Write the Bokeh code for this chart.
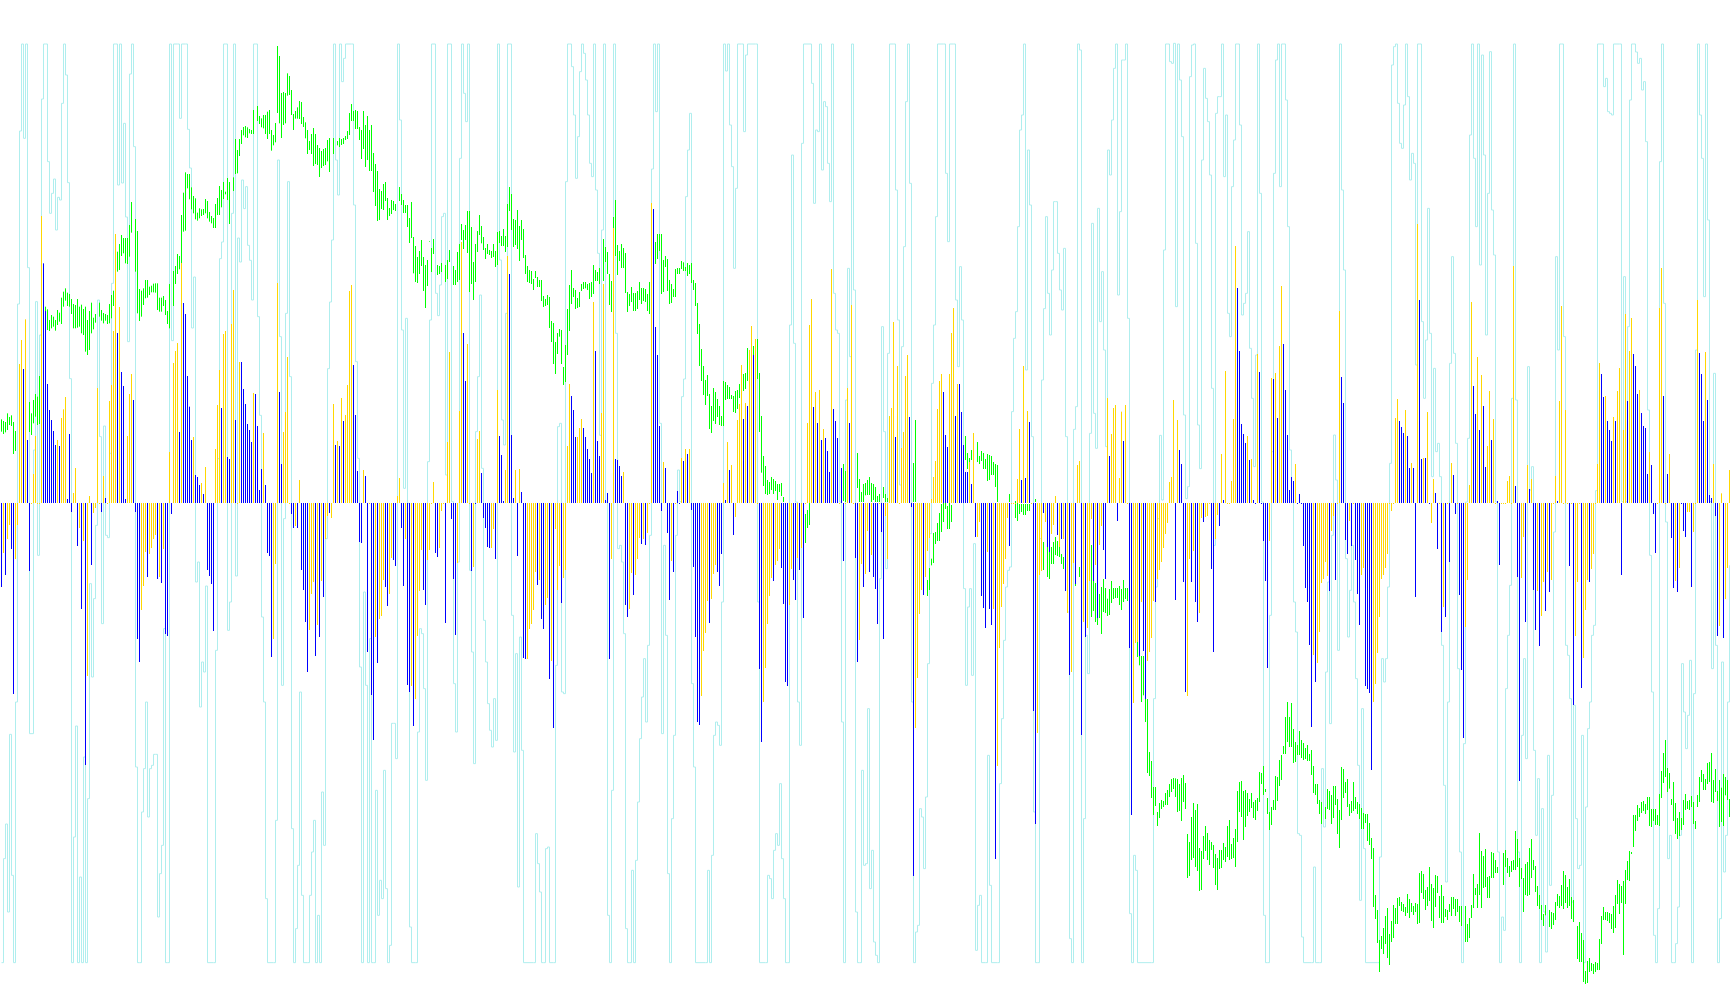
from bokeh.plotting import figure
from bokeh.models import Range1d, ColumnDataSource
from bokeh.embed import file_html
from bokeh.resources import INLINE

# Signed oscillator bars, as (bar number, value); the unit is a third of a screen pixel.
blue_bars = [
(11,399),(13,186),(21,716),(22,573),(23,354),(24,276),(25,246),(26,213),(27,171),(29,168),(33,9),(34,204),(52,12),(58,507),(60,390),(61,348),(62,9),(66,306),(89,210),(91,597),(92,564),(93,378),(94,286),(95,186),(97,81),(98,75),(99,51),(101,24),(110,282),(113,135),(114,129),(117,246),(120,420),(121,339),(122,294),(123,234),(124,216),(125,180),(127,324),(128,228),(129,36),(130,99),(132,51),(139,330),(140,114),(167,171),(169,168),(171,243),(176,411),(177,261),(178,93),(182,78),
(0,-255),(2,-219),(5,-141),(6,-576),(14,-207),(35,-30),(38,-132),(40,-321),(42,-789),(45,-189),(50,-30),(67,-30),(68,-411),(69,-480),(73,-225),(78,-231),(80,-243),(82,-396),(83,-402),(85,-36),(103,-204),(104,-222),(105,-246),(106,-387),(133,-153),(134,-162),(135,-465),(145,-36),(146,-78),(148,-78),(150,-204),(151,-264),(152,-360),(153,-510),(157,-462),(159,-405),(161,-285),(164,-33),(179,-120),(180,-123),(183,-450),(185,-579),(186,-714),(188,-483),(192,-255),(193,-312),(196,-174),(197,-192),(200,-78),(201,-252),(203,-549),(204,-570),(206,-672),(211,-264),(212,-309),
(231,507),(232,363),(240,87),(249,198),(250,141),(251,3),(254,684),(255,201),(256,12),(260,30),(285,318),(286,276),(287,195),(291,222),(292,195),(293,159),(294,129),(295,87),(297,453),(298,183),(299,138),(302,6),(303,27),(307,129),(308,126),(309,108),(310,78),(326,879),(327,525),(328,441),(329,228),(332,102),(338,33),(341,123),(343,144),(362,6),(364,96),(371,249),(373,288),(376,441),(406,285),(408,237),(410,186),(412,192),(413,153),(414,90),(416,279),(417,243),(418,192),(420,102),(424,237),
(217,-153),(218,-165),(222,-363),(225,-51),(226,-231),(227,-399),(235,-207),(241,-48),(242,-78),(243,-135),(244,-138),(247,-171),(258,-162),(261,-468),(262,-471),(268,-249),(270,-351),(271,-381),(274,-531),(276,-678),(280,-303),(304,-471),(312,-309),(313,-345),(316,-279),(320,-126),(322,-129),(330,-27),(333,-93),(334,-294),(336,-210),(345,-24),(346,-195),(347,-405),(348,-660),(349,-669),(354,-363),(358,-210),(359,-252),(360,-156),(366,-99),(379,-501),(380,-720),(386,-237),(390,-198),(391,-306),(392,-540),(393,-552),(396,-234),(397,-294),(399,-204),(401,-348),(421,-177),(427,-168),(428,-480),(431,-255),
(447,195),(454,255),(471,330),(472,201),(473,165),(477,258),(479,354),(480,270),(481,171),(482,90),(483,90),(485,54),(510,66),(512,72),(514,240),(554,138),(561,183),(589,156),(590,114),(611,6),(618,642),(619,453),(620,234),(621,204),(622,177),(624,126),(626,6),(629,390),(636,369),(638,252),(641,474),(642,336),(643,201),(644,36),(645,75),(646,63),
(434,-210),(436,-225),(437,-261),(438,-366),(440,-90),(441,-411),(455,-15),(456,-1122),(461,-279),(487,-105),(490,-282),(491,-318),(492,-378),(494,-321),(495,-369),(497,-1071),(504,-132),(516,-627),(517,-966),(521,-33),(523,-135),(524,-150),(528,-99),(530,-111),(532,-267),(534,-519),(537,-246),(540,-699),(542,-405),(546,-237),(548,-348),(551,-144),(552,-231),(558,-57),(564,-438),(565,-939),(569,-462),(571,-447),(572,-591),(577,-300),(587,-294),(591,-240),(592,-570),(595,-240),(597,-300),(598,-360),(601,-60),(605,-201),(606,-450),(609,-72),(631,-117),(632,-237),(633,-498),
(649,24),(670,375),(671,297),(699,243),(700,225),(701,207),(703,198),(704,102),(706,102),(709,606),(710,129),(712,132),(717,27),(726,81),(736,348),(737,264),(739,216),(741,288),(742,105),(745,186),(748,3),(757,48),(764,39),(778,3),(800,384),(801,315),(803,243),(804,216),(805,183),(807,243),(813,303),(816,444),(817,408),(818,324),(820,267),(821,228),(822,222),(823,84),(825,111),(831,318),(833,84),(849,447),(850,384),(851,243),(853,306),(854,21),(855,12),
(651,-132),(652,-258),(653,-300),(654,-429),(655,-675),(657,-540),(664,-267),(667,-234),(672,-114),(673,-156),(675,-132),(677,-174),(678,-276),(679,-369),(682,-552),(683,-561),(684,-573),(685,-804),(707,-285),(718,-141),(720,-390),(722,-345),(724,-180),(727,-36),(729,-279),(730,-504),(731,-708),(749,-189),(758,-225),(759,-837),(762,-360),(766,-264),(767,-384),(769,-432),(772,-327),(774,-270),(784,-192),(786,-609),(790,-558),(794,-240),(810,-219),(826,-36),(827,-153),(835,-108),(836,-258),(838,-270),(841,-87),(842,-105),(845,-255),(857,-42),(858,-402),(861,-408),
]

gold_bars = [
(9,414),(10,486),(12,548),(16,84),(17,198),(20,858),(28,186),(30,252),(31,278),(32,315),(36,27),(37,102),(44,18),(48,342),(51,78),(54,303),(55,351),(56,513),(57,804),(59,585),(63,198),(64,324),(65,384),(84,150),(86,417),(87,453),(88,477),(90,717),(96,195),(100,57),(102,105),(107,159),(108,291),(109,396),(111,504),(112,513),(115,534),(116,636),(119,420),(126,327),(131,207),(138,657),(141,210),(142,270),(143,435),(149,66),(166,294),(168,183),(170,312),(172,261),(173,351),(174,633),(175,651),(181,96),(198,18),(199,72),
(1,-153),(3,-111),(4,-69),(7,-171),(8,-69),(39,-78),(41,-117),(43,-522),(46,-33),(47,-18),(70,-324),(71,-252),(72,-150),(74,-156),(75,-138),(76,-111),(77,-99),(79,-225),(81,-141),(136,-411),(137,-186),(147,-72),(154,-384),(155,-276),(156,-240),(158,-369),(160,-237),(162,-111),(163,-42),(165,-48),(187,-405),(189,-351),(190,-342),(191,-234),(194,-276),(195,-168),(202,-111),(205,-552),(207,-591),(208,-402),(209,-267),(210,-144),(213,-174),(214,-144),
(216,60),(223,180),(224,450),(229,273),(230,780),(233,474),(238,189),(239,213),(248,336),(252,96),(253,738),(257,96),(259,99),(283,168),(284,354),(288,195),(289,222),(290,249),(296,600),(300,267),(301,654),(306,822),(311,90),(325,897),(331,120),(340,132),(342,159),(344,159),(361,57),(363,180),(365,111),(368,246),(369,294),(370,411),(372,297),(374,456),(375,528),(377,489),(403,237),(404,531),(405,609),(407,330),(409,336),(411,219),(415,699),(423,342),(425,591),
(219,-138),(220,-27),(228,-183),(236,-195),(245,-138),(246,-81),(263,-471),(264,-381),(265,-366),(266,-324),(267,-210),(269,-234),(272,-309),(273,-288),(275,-477),(277,-81),(278,-264),(279,-192),(281,-228),(282,-204),(305,-171),(314,-321),(315,-213),(317,-219),(318,-171),(319,-108),(321,-111),(323,-93),(335,-177),(350,-582),(351,-447),(352,-393),(353,-297),(355,-291),(356,-216),(357,-189),(367,-45),(381,-600),(382,-498),(383,-366),(384,-282),(385,-228),(387,-189),(388,-177),(389,-141),(394,-309),(395,-201),(398,-168),(400,-138),(429,-414),(430,-186),(432,-216),
(444,258),(445,282),(446,540),(448,408),(450,162),(451,210),(452,378),(453,441),(465,9),(466,75),(467,123),(468,279),(469,363),(470,384),(474,384),(475,507),(476,582),(478,354),(484,120),(486,207),(508,69),(509,219),(511,408),(513,273),(527,18),(538,111),(539,123),(553,312),(555,204),(556,282),(557,291),(559,72),(560,271),(562,291),(584,60),(585,75),(586,306),(588,246),(610,144),(612,393),(615,63),(616,249),(617,768),(623,198),(625,129),(628,444),(635,372),(637,387),(639,468),(640,648),(647,114),
(433,-87),(435,-159),(442,-42),(443,-171),(457,-678),(458,-528),(459,-336),(460,-264),(462,-225),(463,-147),(464,-108),(488,-105),(489,-60),(493,-150),(496,-321),(498,-792),(499,-438),(500,-315),(501,-246),(502,-171),(503,-48),(518,-693),(519,-219),(520,-207),(522,-60),(525,-96),(526,-69),(529,-135),(531,-111),(533,-333),(535,-510),(536,-183),(541,-360),(543,-378),(544,-237),(545,-51),(547,-189),(549,-129),(550,-72),(566,-603),(567,-423),(568,-420),(570,-300),(573,-477),(574,-450),(575,-408),(576,-297),(578,-231),(579,-204),(580,-180),(581,-138),(582,-96),(583,-63),(593,-582),(594,-171),(596,-147),(599,-333),(600,-48),(602,-45),(603,-42),(607,-111),(608,-39),(634,-117),
(669,573),(697,252),(698,309),(702,276),(705,117),(708,834),(711,132),(713,270),(716,69),(725,117),(734,51),(735,600),(738,435),(740,381),(743,168),(744,333),(746,249),(753,63),(754,78),(756,708),(763,111),(765,69),(777,78),(779,303),(780,588),(782,276),(798,114),(799,417),(802,318),(806,255),(808,333),(809,402),(811,216),(812,564),(814,453),(815,552),(819,336),(824,150),(829,582),(830,702),(834,144),(848,606),(852,450),(856,114),(860,26),(864,96),
(656,-459),(658,-483),(659,-390),(660,-243),(661,-231),(662,-180),(663,-222),(665,-87),(666,-42),(674,-57),(680,-219),(681,-198),(686,-600),(687,-546),(688,-453),(689,-345),(690,-231),(691,-219),(692,-198),(693,-156),(695,-27),(715,-63),(721,-315),(732,-375),(733,-234),(760,-228),(761,-105),(768,-267),(770,-342),(771,-240),(773,-210),(775,-234),(787,-402),(788,-240),(791,-468),(792,-324),(793,-234),(795,-201),(796,-156),(837,-237),(839,-198),(843,-30),(844,-30),(846,-90),(859,-372),(862,-291),(863,-198),
]

# Runs of bars near zero that read blue; the other near-zero bars read gold.
small_blue_runs = [(21,29),(33,35),(58,66),(89,101),(120,132),(139,140),(167,182),(237,241),(249,257),(283,287),(291,295),(306,311),(325,330),(338,344),(361,365),(403,417),(471,485),(617,631),(636,648),(649,652),(669,671),(698,716),(798,825),(840,846),(850,854)]
small_bar_value = -6
bar_base = -3

# Price range of each bar, (high, low), listed from bar 0; None where no range shows.
green_range = [
(248,211),(243,204),(240,209),(266,216),(255,231),(260,228),(240,144),(213,153),None,None,
None,None,None,None,(300,210),(266,201),(306,236),(324,256),(316,231),(378,234),
None,None,(586,521),(578,516),(546,513),(561,521),(556,526),(546,514),(576,531),(568,541),
(613,534),(631,586),(641,604),(628,588),(624,586),(609,564),(594,521),(591,521),(609,523),(586,526),
(592,506),(579,501),(586,451),(546,441),(573,456),(598,506),(553,518),(564,538),None,(598,556),
(576,544),(567,536),(564,544),(561,534),(594,536),(621,551),(634,588),None,(751,691),(774,696),
(801,738),(792,746),(792,716),(792,714),(831,736),(900,808),None,(849,691),(813,566),(639,543),
(634,556),(641,591),(666,611),(666,613),(646,621),(649,629),(655,629),(656,628),(656,576),(613,571),
(613,571),(618,588),(606,561),(573,534),(654,521),None,(693,588),(708,654),(744,684),(738,698),
(861,701),(928,811),(989,814),(984,941),(984,908),(944,878),(918,866),(911,848),(868,844),(881,851),
(878,858),(879,861),(909,866),(903,851),(870,841),(858,836),(852,822),(894,822),(912,861),(948,861),
(936,884),(960,909),(931,923),(972,906),(960,834),None,(974,933),(1089,984),(1056,986),(1089,1038),
(1116,1074),(1125,1100),(1128,1094),(1124,1092),(1119,1106),(1116,1104),(1176,1104),None,(1188,1143),(1158,1134),
(1151,1124),(1161,1121),(1161,1104),(1171,1089),(1176,1104),(1116,1054),(1101,1070),(1137,1079),(1368,1167),(1338,1136),
(1227,1092),(1230,1131),(1227,1136),(1286,1219),(1278,1221),(1236,1161),(1164,1116),(1173,1150),(1184,1150),(1203,1149),
(1200,1134),(1155,1125),(1139,1091),(1116,1044),(1083,1056),(1104,1044),(1122,1008),(1104,1014),(1071,1011),(1062,975),
(1053,1002),(1059,1008),(1062,1011),(1086,1022),(1092,990),None,(1092,1044),None,(1083,1070),(1092,1065),
(1089,1071),(1092,1074),(1098,1086),(1113,1089),(1167,1101),(1194,1143),(1173,1143),(1176,1119),(1173,1119),(1125,1086),
(1116,1029),(1173,1059),(1131,1005),(1158,1026),(1116,993),(1131,993),(1047,930),(1014,888),(993,843),(939,846),
(933,879),(954,876),(960,903),(912,846),(882,858),(906,864),(903,876),(894,873),None,(945,903),
(924,891),(906,867),(891,867),(891,825),(852,777),(900,792),(795,686),(768,660),(735,657),(753,684),
(786,708),(735,633),(711,582),(726,648),(783,781),(762,690),
(789,744),None,(711,681),(708,684),(717,690),None,(711,660),(726,669),(756,720),None,
(708,651),(696,651),(750,660),(774,666),(834,786),(816,759),(831,786),(873,747),(873,630),(825,654),
(720,606),(774,660),(813,750),(861,801),(828,776),(795,756),(762,729),(774,744),(756,741),(753,732),
(774,735),(753,705),(810,711),(813,777),(798,768),(819,768),(798,750),(894,765),(945,873),(924,816),
(849,765),(846,771),(876,759),(828,723),(846,786),(819,732),(741,684),(708,660),(696,657),(693,654),
(669,636),(693,672),(675,645),(666,645),(666,603),(618,585),(609,588),(621,591),(615,522),(543,480),
(537,414),(480,384),(507,444),(519,496),(516,414),(405,351),(471,360),(579,441),(651,513),(696,594),
(642,615),(636,579),(612,582),(630,585),(654,633),(660,639),(660,641),(654,636),(657,609),(660,615),
(711,624),(696,663),(690,663),(702,654),None,(789,663),(765,720),(750,684),(684,591),(663,570),
(855,822),(906,738),(771,681),(753,723),(774,702),(762,702),(747,627),(630,570),(624,588),(645,600),
(627,573),(627,573),(633,579),(660,606),(642,594),(642,603),(639,600),(624,573),(660,564),None,
None,(780,714),(804,729),(804,753),(804,624),(726,630),(738,705),(729,633),(666,594),(654,597),
(639,615),(699,615),(702,684),(702,684),(723,699),(719,693),(705,693),(717,678),(711,684),(717,657),
(666,636),(657,588),(597,504),(534,408),(459,363),(408,321),(366,291),(381,318),(324,219),(288,207),
(342,243),(330,234),(309,255),(288,231),(258,228),(363,228),(360,306),(351,309),(345,309),(321,309),
(318,270),(333,267),(336,279),(354,312),(363,312),(384,333),(387,339),(462,363),(456,426),None,
(468,441),(486,369),(489,369),(387,210),(258,88),(138,48),(108,24),(66,21),(60,24),(75,36),
(69,24),(63,33),(54,6),(54,30),(57,18),(15,0),None,None,None,None,
None,None,None,None,None,None,(-36,-123),(-24,-78),(-3,-69),None,
None,None,None,None,None,None,None,None,None,None,
None,None,None,None,None,(114,3),(93,0),None,None,None,
None,None,(147,42),(69,0),(30,0),(54,0),(57,20),(66,21),
(75,21),(57,0),(54,6),(45,0),(18,0),(24,0),None,(45,12),(24,0),(12,0),
(33,0),None,None,None,None,None,None,None,None,None,
None,None,(117,0),(246,0),None,None,None,None,None,(-234,-282),
(-198,-264),(-170,-190),(-93,-183),(-90,-126),(-63,-117),(-33,-117),(-6,-90),(-3,-60),(-3,-21),(-12,-81),
(-3,-81),(-9,-60),None,None,None,None,None,None,(198,126),(147,99),
(132,108),(156,126),(177,126),None,(180,120),(138,114),(153,123),(147,99),(129,99),(144,63),
(141,66),(138,81),(120,81),(114,45),(111,0),None,None,None,None,None,
(24,0),None,None,(3,-48),(36,-57),(-6,-36),(-6,-30),(-6,-39),(-6,-39),(-6,-27),
(-6,-27),None,None,(9,0),None,None,None,(-120,-204),None,(-90,-225),
(-117,-231),(-135,-186),(-120,-186),(-105,-159),(-117,-162),(-99,-165),(-156,-186),(-165,-201),(-165,-195),None,
None,None,None,(-180,-252),None,(-195,-225),(-135,-225),None,(-105,-366),None,
None,(-129,-345),(-209,-327),(-243,-360),(-249,-369),(-276,-348),(-255,-396),(-231,-330),(-258,-333),(-290,-342),
(-261,-339),(-237,-303),(-258,-291),(-258,-288),(-258,-288),(-252,-309),(-261,-324),(-234,-300),(-258,-291),(-258,-297),
(-249,-294),None,None,None,(-420,-465),(-417,-490),(-462,-600),(-462,-580),(-552,-660),(-591,-813),
(-750,-822),(-777,-888),(-855,-939),(-855,-912),(-930,-972),(-903,-948),(-894,-921),(-897,-915),(-873,-909),(-864,-909),
(-846,-885),(-831,-870),(-828,-861),(-829,-885),(-831,-930),(-846,-927),(-828,-957),(-819,-900),(-843,-921),(-996,-1128),
(-1020,-1122),(-945,-1074),(-903,-1068),(-924,-1095),(-906,-1107),(-1038,-1167),(-1047,-1164),(-1002,-1071),(-972,-1047),(-993,-1074),
(-1014,-1089),(-1020,-1044),(-1029,-1098),(-1056,-1149),(-1068,-1164),(-1044,-1101),(-1044,-1098),(-1023,-1074),(-1035,-1080),(-972,-1065),
(-954,-1074),(-1026,-1071),(-1008,-1068),(-981,-1095),(-867,-1020),(-840,-930),(-837,-945),(-867,-1014),(-864,-975),(-873,-942),
(-891,-930),(-873,-918),(-900,-948),(-894,-954),(-888,-927),(-810,-900),(-813,-846),(-792,-879),(-861,-870),(-888,-936),
(-930,-984),(-915,-969),(-894,-924),(-822,-924),(-825,-897),(-774,-852),(-759,-834),(-732,-756),(-645,-756),(-600,-720),
(-645,-735),(-603,-735),(-681,-783),(-720,-780),(-729,-759),(-687,-759),
(-714,-768),(-723,-774),(-738,-771),(-729,-777),(-756,-777),(-744,-819),(-792,-873),(-846,-879),(-846,-906),(-894,-936),
(-900,-966),None,(-915,-951),(-861,-921),(-867,-924),(-879,-966),(-852,-948),(-852,-909),(-891,-996),(-924,-1038),
(-795,-954),(-801,-888),(-840,-873),(-831,-915),(-906,-942),(-897,-933),(-840,-927),(-885,-921),(-900,-936),(-906,-951),
(-918,-981),(-933,-981),(-936,-963),(-936,-1017),(-963,-1029),(-1008,-1071),(-1038,-1215),(-1179,-1251),(-1224,-1323),(-1314,-1410),
(-1302,-1341),(-1278,-1356),(-1242,-1326),(-1218,-1368),(-1296,-1389),(-1257,-1320),(-1209,-1308),(-1218,-1266),(-1188,-1266),(-1185,-1212),
(-1200,-1227),(-1206,-1230),(-1215,-1242),(-1176,-1233),(-1191,-1248),(-1203,-1230),(-1212,-1239),(-1203,-1230),(-1206,-1266),(-1113,-1263),
(-1107,-1173),(-1116,-1191),(-1164,-1224),(-1155,-1212),(-1095,-1197),(-1146,-1257),(-1158,-1278),(-1119,-1215),(-1122,-1173),(-1182,-1248),
(-1149,-1263),(-1182,-1263),(-1221,-1245),(-1224,-1254),(-1206,-1230),(-1185,-1242),(-1185,-1221),(-1191,-1242),(-1191,-1230),(-1212,-1260),
(-1212,-1272),None,(-1212,-1320),(-1266,-1320),(-1248,-1308),(-1209,-1248),(-1116,-1218),(-1158,-1179),(-1146,-1218),(-993,-1179),
(-1047,-1218),(-1062,-1158),(-1041,-1155),(-1125,-1188),(-1122,-1188),(-1050,-1128),(-1053,-1128),(-1074,-1113),(-1095,-1113),None,
None,(-1053,-1149),(-1044,-1095),(-1068,-1113),(-1092,-1125),(-1077,-1110),(-1074,-1104),(-987,-1104),(-1011,-1095),(-1068,-1155),
(-1098,-1131),(-1128,-1230),(-1086,-1179),(-1080,-1182),(-1038,-1179),(-1011,-1128),(-1074,-1104),(-1092,-1170),(-1152,-1212),(-1179,-1221),
(-1209,-1254),(-1236,-1272),(-1209,-1240),None,(-1224,-1275),(-1230,-1281),(-1233,-1269),(-1200,-1254),(-1176,-1212),(-1182,-1218),
(-1149,-1212),(-1107,-1221),(-1119,-1203),(-1155,-1218),(-1131,-1212),(-1185,-1251),(-1194,-1260),None,(-1272,-1371),(-1260,-1380),
(-1293,-1380),(-1314,-1440),(-1407,-1446),(-1377,-1443),(-1368,-1410),(-1383,-1407),(-1386,-1416),(-1380,-1410),(-1383,-1404),(-1311,-1404),
(-1242,-1326),(-1215,-1254),(-1230,-1254),(-1230,-1257),(-1233,-1263),(-1236,-1281),(-1212,-1293),(-1179,-1278),(-1134,-1206),(-1146,-1236),
(-1152,-1203),(-1137,-1359),(-1104,-1206),(-1077,-1134),(-1047,-1137),(-1050,-1056),(-939,-1035),(-939,-987),(-909,-957),(-918,-945),
(-900,-933),(-897,-927),(-906,-936),(-885,-924),(-885,-972),(-921,-975),(-921,-957),(-921,-969),(-939,-969),(-876,-972),
(-807,-888),(-753,-843),(-714,-825),(-798,-870),(-813,-860),(-891,-909),(-840,-957),(-903,-996),(-948,-1011),(-930,-1002),
(-948,-984),(-894,-969),(-876,-924),(-897,-921),(-894,-924),(-882,-915),(-900,-966),(-957,-981),(-879,-915),(-825,-900),
(-804,-840),(-816,-864),(-831,-864),(-783,-846),(-780,-840),(-753,-900),(-834,-903),(-801,-870),(-867,-897),(-834,-975),
(-857,-960),(-816,-972),(-825,-880),(-834,-894),(-891,-945),(-849,-936),
]

# Pale oscillator: its turning points, (bar number, value).
cyan_points = [
(0,-1382),(1,-1070),(2,-966),(3,-1230),(4,-697),(5,-1120),(6,-1382),(7,-600),(8,594),(9,1113),(10,1374),(11,1091),(12,1374),(13,703),(14,-695),(16,156),(17,601),(18,-160),(19,501),(20,1209),(21,1374),(22,1374),(23,1021),(24,866),(25,926),(26,969),(27,816),(28,914),(29,906),(30,1196),(31,1374),(32,1281),(33,958),(34,370),(35,-1382),(36,-1005),(37,-672),(38,-1382),(39,-1125),(40,-1382),(41,-765),(42,-1382),(43,-890),(44,-245),(45,-525),(46,-290),(47,-70),(48,606),(49,196),(50,-365),(51,228),(52,-100),(53,-107),(54,146),(55,656),(56,1374),(57,1374),(58,951),(59,1374),(60,957),(61,1136),(62,855),(63,481),(64,1284),(65,1374),(66,1066),(67,-795),(68,-1382),(69,-1382),(70,-930),(71,-800),(72,-600),(73,-945),(74,-800),(75,-790),(76,-757),(77,-757),(78,-1245),(79,-1115),(80,-1030),(81,-380),(82,-1382),(83,-1382),(84,1374),(85,484),(86,1374),(88,1374),(89,1151),(90,1374),(92,1374),(93,1118),(94,1002),(95,522),(96,675),(97,-240),(98,-180),(99,-615),(100,-480),(101,-510),(102,-252),(103,-1382),(106,-1382),(107,-445),(108,130),(109,730),(110,780),(111,1374),(112,1374),(113,-385),(114,-300),(115,866),(116,1374),(117,-222),(118,792),(119,720),(120,966),(121,880),(122,946),(123,770),(124,725),(125,606),(126,1374),(127,1374),(128,556),(129,260),(130,-345),(131,-600),(132,-1190),(133,-1382),(136,-1382),(137,-955),(138,1026),(139,496),(140,-550),(141,-50),(142,566),(143,961),(144,376),(145,-980),(146,-1382),(147,-1280),(148,-1090),(149,-570),(150,-1180),(151,-1382),(153,-1382),(154,-1180),(155,-1050),(156,-955),(157,-1382),(158,-1240),(159,-1382),(160,-870),(161,-1030),(162,-110),(163,400),(164,600),(165,786),(166,1374),(167,1026),(168,921),(169,1374),(170,1261),(171,1331),(172,1374),(175,1374),(176,891),(177,421),(178,131),(179,-495),(180,-1382),(181,-270),(182,-550),(183,-1382),(184,-410),(185,-1382),(186,-1382),(187,-865),(188,-1240),(189,-1135),(190,-1190),(191,-805),(192,-1160),(193,-1382),(194,-1330),(195,-664),(196,-664),(197,-770),(198,1374),(199,1146),(200,516),(201,41),(202,551),(203,-4),(204,-1275),(205,-1382),(207,-1382),(208,-690),(209,-380),(210,-395),(211,-560),(212,-835),(213,121),(214,546),(215,1374),
(217,626),(218,559),(219,651),(220,856),(221,866),(222,81),(223,1374),(224,1374),(225,1),(226,-545),(227,-690),(228,-180),(229,1031),(230,1374),(231,1226),(232,1141),(233,1374),(234,-205),(235,-450),(236,-785),(237,211),(238,376),(239,621),(240,101),(241,-355),(242,-480),(243,-605),(244,-685),(245,-735),(246,-590),(247,-715),(248,1374),(249,726),(250,246),(251,171),(252,566),(253,1374),(254,1374),(255,-340),(256,-750),(257,-455),(258,-1155),(259,-405),(260,-745),(261,-1382),(266,-1382),(267,-995),(268,-1085),(269,-1170),(270,-1382),(271,-1382),(272,-1040),(273,-1035),(274,-1382),(276,-1382),(277,-490),(278,226),(279,236),(280,-570),(281,-575),(282,961),(283,1374),(284,1374),(285,1306),(286,1161),(287,971),(288,1096),(289,1291),(290,1374),(291,1346),(292,1266),(293,1161),(294,1016),(295,976),(296,1374),(297,936),(298,746),(299,200),(300,816),(301,1374),(302,0),(303,-1240),(304,-1382),(305,-865),(306,1374),(307,506),(308,-140),(309,-130),(310,-180),(311,-395),(312,-1280),(313,-1382),(314,-1382),(315,-1105),(316,-1382),(317,-1075),(318,-900),(319,-710),(320,-585),(321,-470),(322,-660),(323,-430),(324,-100),(325,999),(326,1374),(327,1171),(328,1374),(329,236),(330,-695),(331,-130),(332,-400),(333,-1115),(334,-1382),(335,-950),(336,-700),(337,-100),(338,96),(339,1),(340,316),(341,369),(342,916),(343,1056),(344,1166),(345,-545),(346,-795),(347,-1382),(352,-1382),(353,-1105),(354,-1382),(355,-1060),(356,-700),(357,-660),(358,-670),(359,-730),(360,-300),(361,1374),(362,1293),(363,1374),(364,1131),(365,1006),(366,701),(367,941),(368,1374),(370,1374),(371,1111),(372,1341),(373,1374),(377,1374),(378,-300),(379,-1382),(382,-1382),(383,-1120),(384,-1130),(385,-1190),(386,-1045),(387,-995),(388,-1030),(389,-845),(390,-1070),(391,-1190),(392,-1382),(393,-1382),(394,531),(395,1041),(396,476),(397,0),(398,-600),(399,-730),(400,1076),(401,1374),(405,1256),(406,896),(407,1116),(408,1111),(409,1374),(410,996),(411,1201),(412,1186),(413,1016),(414,901),(415,1374),(416,626),(417,516),(418,506),(419,0),(420,-660),(421,-1382),(422,306),(423,701),(424,436),(425,1374),(426,636),(427,-1230),(428,-1382),(429,-1382),(430,-805),(431,-1090),(432,-1085),
(433,-620),(434,-1160),(435,-1045),(436,-1320),(437,-1360),(438,-1382),(439,-230),(440,526),(441,211),(442,-200),(443,446),(444,1374),(446,1374),(447,936),(448,546),(449,51),(450,466),(451,766),(452,1201),(453,1374),(454,956),(455,-600),(456,-1382),(457,-1290),(458,-1270),(459,-920),(460,-945),(461,-1100),(462,-885),(463,-485),(464,-95),(465,356),(466,531),(467,856),(468,1374),(471,1374),(472,986),(473,781),(474,1374),(476,1374),(477,606),(478,406),(479,706),(480,546),(481,-260),(482,-550),(483,-315),(484,-260),(485,-520),(486,-125),(487,-1345),(488,-1210),(489,-1180),(490,-1382),(492,-1382),(493,-760),(494,-1150),(495,-1382),(498,-1382),(499,-845),(500,-650),(501,-415),(502,-255),(503,-205),(504,-195),(505,271),(506,491),(507,571),(508,826),(509,1116),(510,1161),(511,1374),(512,396),(513,1056),(514,891),(515,196),(516,-930),(517,-1382),(518,-1382),(519,-110),(520,366),(521,580),(522,856),(523,626),(524,501),(525,696),(526,901),(527,901),(528,746),(529,636),(530,576),(531,761),(532,196),(533,-330),(534,-1310),(535,-1382),(536,218),(537,286),(538,1374),(539,1356),(540,-1382),(541,-950),(542,-400),(543,-515),(544,206),(545,836),(546,266),(547,161),(548,881),(549,541),(550,691),(551,456),(552,166),(553,1056),(554,981),(555,1146),(556,1301),(557,1374),(558,621),(559,871),(560,1326),(561,1326),(562,1374),(563,551),(564,-1235),(565,-1382),(566,-1060),(567,-1105),(568,-1382),(575,-1382),(576,-590),(577,-255),(578,-50),(579,200),(580,6),(581,756),(582,1374),(583,1374),(584,1321),(585,1316),(586,1376),(587,586),(588,1374),(589,1266),(590,1096),(591,261),(592,10),(593,46),(594,1276),(595,1371),(596,1374),(597,776),(598,231),(599,100),(600,1026),(601,1301),(602,1211),(603,1141),(604,981),(605,341),(606,-130),(607,1166),(608,1216),(609,1216),(610,1374),(611,976),(612,1161),(613,566),(614,496),(615,946),(616,1086),(617,1374),(618,1374),(619,1131),(620,561),(621,596),(622,626),(623,811),(624,461),(625,311),(626,106),(627,441),(628,1374),(629,926),(630,0),(631,-1240),(632,-1382),(633,-1382),(634,-340),(635,151),(636,986),(637,1326),(638,1374),(639,946),(640,1374),(641,1374),(642,1206),(643,826),(644,156),(645,0),(646,-300),(647,-390),(648,-995),
(649,-1000),(650,-1305),(651,-1382),(655,-1382),(656,-1095),(657,-1382),(659,-1382),(660,-800),(661,-975),(662,-510),(663,-240),(664,-665),(665,-100),(666,201),(667,66),(668,-445),(669,1374),(670,936),(671,696),(672,-170),(673,-405),(674,-265),(675,-130),(676,-300),(677,-530),(678,-790),(679,-1195),(680,-620),(681,-1040),(682,-1382),(688,-1382),(689,-1065),(690,-470),(691,-540),(692,-470),(693,-255),(694,116),(695,1311),(696,1366),(697,1374),(698,1196),(699,1076),(700,1061),(701,1191),(702,1374),(703,1216),(704,966),(705,1046),(706,1016),(707,411),(708,1374),(709,1374),(710,541),(711,311),(712,486),(713,881),(714,506),(715,76),(716,401),(717,151),(718,176),(719,76),(720,-430),(721,-850),(722,-1140),(723,-600),(724,416),(725,736),(726,446),(727,176),(728,-500),(729,-1050),(730,-1382),(731,-725),(732,0),(733,191),(734,1101),(735,1374),(736,1031),(737,826),(738,1374),(739,711),(740,1341),(741,1041),(742,501),(743,926),(744,1351),(745,876),(746,741),(747,0),(748,-1050),(749,-1382),(750,-1245),(751,-1285),(752,-560),(753,-400),(754,-250),(755,311),(756,1374),(757,306),(758,-1050),(759,-1382),(760,-700),(761,-470),(762,-770),(763,406),(764,36),(765,106),(766,-745),(767,-1000),(768,-830),(769,-1382),(770,-920),(771,-1230),(772,-1350),(773,-760),(774,-1150),(775,-880),(776,-90),(777,736),(778,456),(779,1374),(780,1374),(781,496),(782,-430),(783,-460),(784,-590),(785,-1200),(786,-610),(787,-950),(788,-1100),(789,-1090),(790,-700),(791,-1382),(792,-915),(793,-680),(794,-600),(795,-400),(796,-370),(797,34),(798,1374),(800,1374),(801,1246),(802,1271),(803,1171),(804,1166),(805,1161),(806,1374),(809,1374),(810,1),(811,676),(812,1),(813,526),(814,1206),(815,1374),(816,1374),(817,1350),(818,1316),(819,1331),(820,1236),(821,1261),(822,1081),(823,276),(824,-160),(825,-570),(826,-1300),(827,-1382),(828,-1220),(829,1021),(830,1374),(831,596),(832,-60),(833,-1070),(834,-1000),(835,-1382),(836,-1382),(837,-1325),(838,-1215),(839,-1000),(840,-485),(841,-630),(842,-740),(843,-640),(844,-475),(845,-1382),(846,-575),(847,456),(848,1374),(849,1161),(850,1031),(851,616),(852,1374),(853,846),(854,1),(855,-500),(856,386),(857,-430),(858,-1382),(859,-1250),(860,-480),(861,-1110),(862,-1000),(863,-600),(864,-190),
]

p = figure(width=1730, height=1005, output_backend="svg", toolbar_location=None,
           x_range=Range1d(-0.5, 864.5), y_range=Range1d(-1510.5, 1504.5),
           min_border=0, outline_line_color=None, background_fill_color="white")
p.axis.visible = False
p.grid.visible = False

cyan = ColumnDataSource(dict(x=[c[0] for c in cyan_points], y=[c[1] for c in cyan_points]))
p.step("x", "y", source=cyan, mode="after", line_color="#afeeee", line_width=1)

g_x = [i for i, r in enumerate(green_range) if r is not None]
g_hi = [green_range[i][0] for i in g_x]
g_lo = [green_range[i][1] for i in g_x]
p.segment(g_x, g_hi, g_x, g_lo, line_color="#00ff00", line_width=1)

used = {b[0] for b in blue_bars} | {b[0] for b in gold_bars}
small_blue = [i for a, b in small_blue_runs for i in range(a, b + 1) if i not in used]
small_gold = [i for i in range(865) if i not in used and i not in set(small_blue)]

gold_x = [b[0] for b in gold_bars] + small_gold
gold_y = [b[1] for b in gold_bars] + [small_bar_value] * len(small_gold)
blue_x = [b[0] for b in blue_bars] + small_blue
blue_y = [b[1] for b in blue_bars] + [small_bar_value] * len(small_blue)
p.segment(gold_x, [bar_base] * len(gold_x), gold_x, gold_y, line_color="#ffd700", line_width=1)
p.segment(blue_x, [bar_base] * len(blue_x), blue_x, blue_y, line_color="#0000ff", line_width=1)

open("out.html", "w").write(file_html(p, INLINE))
